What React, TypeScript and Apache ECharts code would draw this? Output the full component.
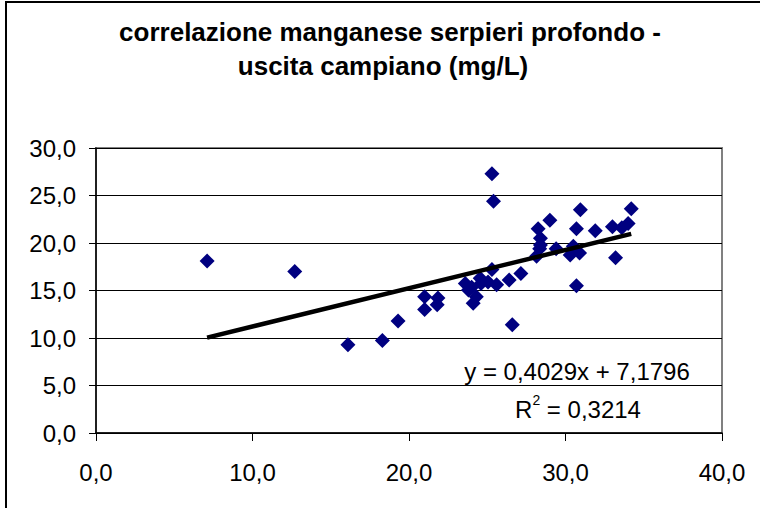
import React, { useEffect, useRef } from "react";
import * as echarts from "echarts";

const titleLines = ["correlazione manganese serpieri profondo -", "uscita campiano (mg/L)"];
const xValues = [7.1, 12.7, 16.1, 18.3, 19.3, 21.0, 21.0, 21.85, 21.8, 23.6, 23.8, 24.0, 24.3, 24.1, 24.55, 24.6, 25.05, 25.3, 25.6, 25.3, 25.4, 26.4, 26.6, 27.15, 28.15, 28.35, 28.4, 28.4, 28.25, 29.0, 29.4, 30.3, 30.5, 30.9, 30.7, 30.95, 30.7, 31.9, 33.0, 33.2, 33.6, 34.0, 34.2];
const yValues = [18.1, 17.0, 9.3, 9.75, 11.8, 14.35, 13.0, 14.2, 13.5, 15.75, 15.05, 15.35, 14.35, 13.65, 16.3, 15.75, 15.9, 17.2, 15.6, 27.3, 24.4, 16.1, 11.4, 16.8, 18.6, 19.4, 19.8, 20.5, 21.5, 22.4, 19.4, 18.75, 19.65, 18.95, 21.5, 23.5, 15.5, 21.3, 21.7, 18.45, 21.6, 22.05, 23.6];
const slope = 0.4029;
const intercept = 7.1796;
const equationText = "y = 0,4029x + 7,1796";
const r2Value = "0,3214";

const FONT = "'Liberation Sans', Arial, sans-serif";
const fmt = (v: number) => v.toFixed(1).replace(".", ",");

export default function App() {
  const ref = useRef<HTMLDivElement>(null);
  useEffect(() => {
    if (!ref.current) return;
    const chart = echarts.init(ref.current, null, { renderer: "svg" });
    const points = xValues.map((x, i) => [x, yValues[i]]);
    const xMin = Math.min(...xValues);
    const xMax = Math.max(...xValues);
    const trend = [
      [xMin, slope * xMin + intercept],
      [xMax, slope * xMax + intercept],
    ];
    chart.setOption({
      animation: false,
      backgroundColor: "#ffffff",
      grid: {
        left: 96,
        top: 148,
        width: 626,
        height: 285,
        show: true,
        borderColor: "#808080",
        borderWidth: 2,
        backgroundColor: "#ffffff",
      },
      xAxis: {
        type: "value",
        min: 0,
        max: 40,
        interval: 10,
        axisLine: { show: true, lineStyle: { color: "#000", width: 1.5 } },
        axisTick: { show: true, inside: false, length: 8, lineStyle: { color: "#000", width: 1 } },
        splitLine: { show: false },
        axisLabel: { formatter: fmt, fontSize: 24, color: "#000", fontFamily: FONT, margin: 27 },
      },
      yAxis: {
        type: "value",
        min: 0,
        max: 30,
        interval: 5,
        axisLine: { show: true, lineStyle: { color: "#000", width: 1.5 } },
        axisTick: { show: true, inside: false, length: 7, lineStyle: { color: "#000", width: 1 } },
        splitLine: { show: true, lineStyle: { color: "#000", width: 1 } },
        axisLabel: { formatter: fmt, fontSize: 24, color: "#000", fontFamily: FONT, margin: 20 },
      },
      series: [
        {
          type: "scatter",
          data: points,
          symbol: "diamond",
          symbolSize: 15,
          itemStyle: { color: "#000080", opacity: 1 },
          z: 3,
        },
        {
          type: "line",
          data: trend,
          showSymbol: false,
          symbol: "none",
          lineStyle: { color: "#000", width: 4.5 },
          z: 4,
        },
      ],
      graphic: [
        {
          type: "rect",
          shape: { x: 6, y: 2, width: 800, height: 600 },
          style: { fill: "none", stroke: "#000", lineWidth: 2 },
          silent: true,
        },
        {
          type: "text",
          x: 390,
          y: 32,
          style: { text: titleLines[0], fontSize: 26, fontWeight: "bold", fontFamily: FONT, fill: "#000", textAlign: "center", textVerticalAlign: "middle" },
        },
        {
          type: "text",
          x: 383,
          y: 66,
          style: { text: titleLines[1], fontSize: 26, fontWeight: "bold", fontFamily: FONT, fill: "#000", textAlign: "center", textVerticalAlign: "middle" },
        },
        {
          type: "text",
          x: 577,
          y: 371,
          z: 10,
          style: { text: equationText, fontSize: 24, fontFamily: FONT, fill: "#000", textAlign: "center", textVerticalAlign: "middle" },
        },
        {
          type: "text",
          x: 578,
          y: 407,
          z: 10,
          style: {
            text: "{r|R}{s|2}{r| = " + r2Value + "}",
            fontSize: 24,
            fontFamily: FONT,
            fill: "#000",
            textAlign: "center",
            textVerticalAlign: "middle",
            rich: {
              r: { fontSize: 24, fontFamily: FONT, fill: "#000", lineHeight: 28, verticalAlign: "bottom" },
              s: { fontSize: 14, fontFamily: FONT, fill: "#000", lineHeight: 28, verticalAlign: "top" },
            },
          },
        },
      ],
    });
    return () => chart.dispose();
  }, []);
  return <div ref={ref} style={{ position: "absolute", left: 0, top: 0, width: 760, height: 508 }} />;
}
